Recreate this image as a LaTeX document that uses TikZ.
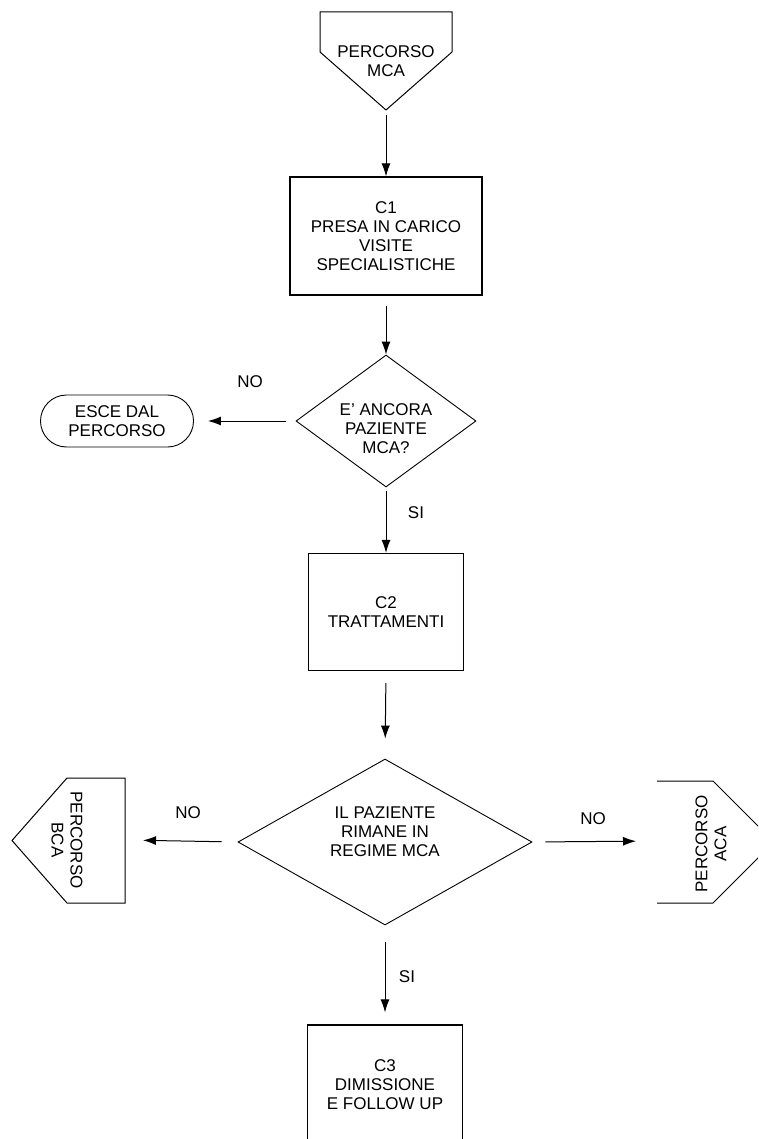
\documentclass[tikz,border=0pt]{standalone}
\usepackage{fontspec}
\setmainfont{Liberation Sans}
\usetikzlibrary{shapes.geometric,shapes.misc,arrows.meta}
\begin{document}
\begin{tikzpicture}[x=1pt,y=-1pt,
  every node/.style={font=\fontsize{17}{19}\selectfont, inner sep=0pt, align=center},
  procbox/.style={draw, line width=1.2pt, rectangle},
  decision/.style={draw, line width=0.9pt, diamond},
  terminal/.style={draw, line width=0.9pt, rounded rectangle},
  offpage/.style={draw, line width=1pt, line join=miter},
  arr/.style={line width=1pt, -{Latex[length=13pt,width=9pt]}},
  lbl/.style={font=\fontsize{17}{19}\selectfont}]
\useasboundingbox (0,0) rectangle (758,1139);
\clip (0,0) rectangle (758,1139);

% top off-page connector
\draw[offpage] (320,12) -- (452,12) -- (452,52) -- (386,110) -- (320,52) -- cycle;
\node (tmca) at (386,61.5) {PERCORSO\\MCA};
\coordinate (ptop) at (386,110);

% C1
\node[procbox, minimum width=192pt, minimum height=118pt] (c1) at (386,236)
  {C1\\PRESA IN CARICO\\VISITE\\SPECIALISTICHE};

% decision 1
\node[decision, minimum width=180pt, minimum height=132pt, shape aspect=1.36,
  label={[yshift=-8pt]center:E' ANCORA\\PAZIENTE\\MCA?}] (d1) at (386,421) {};

% exit terminal
\node[terminal, minimum width=153pt, minimum height=52pt] (esce) at (117,421)
  {ESCE DAL\\PERCORSO};

% C2
\node[procbox, minimum width=155pt, minimum height=117pt] (c2) at (386,612)
  {C2\\TRATTAMENTI};

% decision 2
\node[decision, minimum width=294pt, minimum height=166pt, shape aspect=1.77,
  label={[yshift=10pt]center:IL PAZIENTE\\RIMANE IN\\REGIME MCA}] (d2) at (385,842) {};

% left off-page connector (BCA)
\draw[offpage] (12,840.5) -- (67,778) -- (125,778) -- (125,903) -- (67,903) -- cycle;
\node[rotate=-90] (tbca) at (67,840) {PERCORSO\\BCA};
\coordinate (pbca) at (125,840);

% right off-page connector (ACA)
\draw[offpage] (657,781) -- (713,781) -- (774,842) -- (713,903) -- (657,903);
\node[rotate=90] (taca) at (711,844) {PERCORSO\\ACA};
\coordinate (paca) at (657,841);

% C3
\node[procbox, minimum width=155pt, minimum height=130pt] (c3) at (385,1090)
  {};
\node (tc3) at (385,1085) {C3\\DIMISSIONE\\E FOLLOW UP};

% connectors
\draw[arr, shorten <=5pt] (ptop) -- (c1.north);
\draw[arr, shorten <=10pt] (c1.south) -- (d1.north);
\draw[arr, shorten <=10pt, shorten >=14pt] (d1.west) -- (esce.east);
\draw[arr, shorten <=4pt] (d1.south) -- (c2.north);
\draw[arr, shorten <=12pt, shorten >=20pt] (c2.south) -- (d2.north);
\draw[arr, shorten <=16pt, shorten >=18pt] (d2.west) -- (pbca);
\draw[arr, shorten <=13pt, shorten >=21pt] (d2.east) -- (paca);
\draw[arr, shorten <=17pt, shorten >=12pt] (d2.south) -- (c3.north);

% labels
\node[lbl] (no1) at (250,382) {NO};
\node[lbl] (si1) at (416,513) {SI};
\node[lbl] (no2) at (188,813) {NO};
\node[lbl] (no3) at (593,819) {NO};
\node[lbl] (si2) at (407,977) {SI};
\end{tikzpicture}
\end{document}
